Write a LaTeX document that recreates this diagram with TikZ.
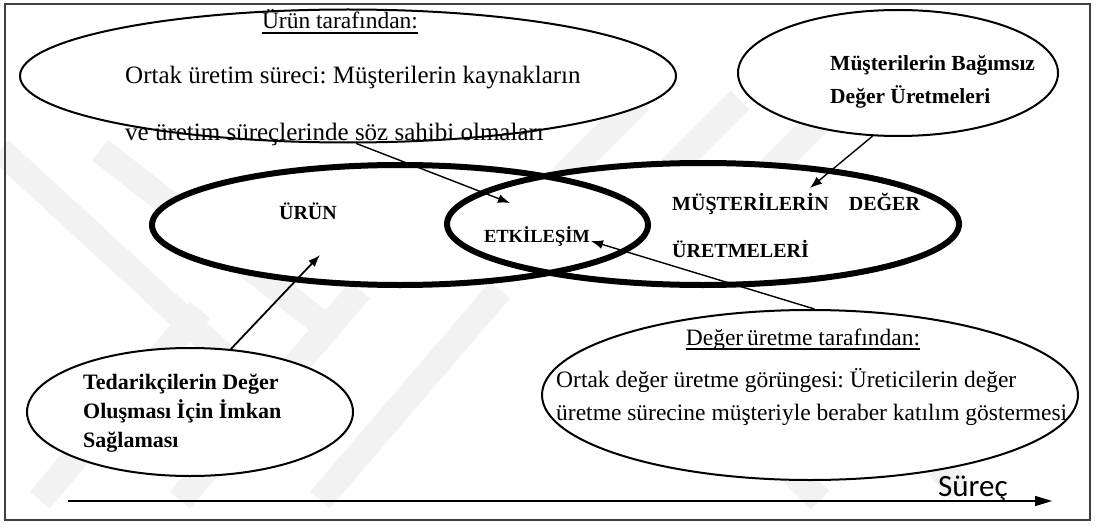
\documentclass[tikz,border=0pt]{standalone}
\usepackage{fontspec}
\setmainfont{Liberation Serif}
\newfontfamily\calibrifont{Carlito}
\usetikzlibrary{shapes.geometric,arrows.meta}
\frenchspacing

\begin{document}
\begin{tikzpicture}[x=1pt,y=-1pt,
  bubble/.style={ellipse, draw, line width=2pt, fill=white, inner sep=0pt},
  venn/.style={ellipse, draw, line width=6pt, inner sep=0pt},
  plain/.style={inner sep=0pt, font=\fontsize{24}{28}\selectfont},
  heavy/.style={inner sep=0pt, font=\bfseries\fontsize{22}{26}\selectfont},
  vennlabel/.style={inner sep=0pt, font=\bfseries\fontsize{20}{24}\selectfont},
  pointer/.style={-{Latex[length=12pt,width=9pt]}, line width=1.4pt},
  band/.style={line width=26pt, black!5}
]
\useasboundingbox (0,0) rectangle (1097,532);

% faint diagonal background bands
\draw[band] (40,500) -- (200,310);
\draw[band] (180,500) -- (360,290);
\draw[band] (320,500) -- (500,290);
\draw[band] (560,180) -- (640,100);
\draw[band] (660,180) -- (740,100);
\draw[band] (760,180) -- (840,100);
\draw[band] (0,150) -- (250,380);
\draw[band] (100,150) -- (330,330);
\draw[band] (700,380) -- (820,500);
\draw[band] (860,380) -- (960,490);

% outer frame
\draw[line width=1.8pt, black!75] (5,4) rectangle (1090,520);

% the two overlapping sets
\fill[white] (400,225) ellipse [x radius=248pt, y radius=60pt];
\fill[white] (703,224) ellipse [x radius=256pt, y radius=61pt];
\node[venn, minimum width=496pt, minimum height=120pt] (prod) at (400,225) {};
\node[venn, minimum width=512pt, minimum height=122pt] (cust) at (703,224) {};

\node[vennlabel, anchor=base] (prodlbl) at (308,219) {ÜRÜN};
\node[vennlabel, anchor=base, font=\bfseries\fontsize{18.5}{22}\selectfont] (etk) at (537,242) {ETKİLEŞİM};
\node[vennlabel, anchor=base west] (custlbl) at (672,210) {MÜŞTERİLERİN\hspace{20pt}DEĞER};
\node[vennlabel, anchor=base west] (custlblb) at (672,257) {ÜRETMELERİ};

% top left bubble
\node[bubble, minimum width=656pt, minimum height=133pt] (tl) at (348,76) {};
\node[plain, anchor=base, font=\fontsize{23.5}{28}\selectfont] (tlhead) at (340,29) {Ürün tarafından:};
\draw[line width=1.2pt] ([yshift=-4pt]tlhead.base west) -- ([yshift=-4pt]tlhead.base east);
\node[plain, anchor=base west, font=\fontsize{25}{28}\selectfont] (tla) at (125,84) {Ortak üretim süreci: Müşterilerin kaynakların};
\node[plain, anchor=base west, font=\fontsize{25}{28}\selectfont] (tlb) at (125,141) {ve üretim süreçlerinde söz sahibi olmaları};

% top right bubble
\node[bubble, minimum width=320pt, minimum height=126pt] (tr) at (898,73) {};
\node[heavy, anchor=base west, font=\bfseries\fontsize{21.5}{25}\selectfont] (tra) at (830,71) {Müşterilerin Bağımsız};
\node[heavy, anchor=base west, font=\bfseries\fontsize{21.5}{25}\selectfont] (trb) at (830,104) {Değer Üretmeleri};

% bottom left bubble
\node[bubble, minimum width=326pt, minimum height=128pt] (bl) at (190,412) {};
\node[heavy, anchor=base west] (bla) at (83,389) {Tedarikçilerin Değer};
\node[heavy, anchor=base west] (blb) at (83,418) {Oluşması İçin İmkan};
\node[heavy, anchor=base west] (blc) at (83,447) {Sağlaması};

% bottom right bubble
\node[bubble, minimum width=536pt, minimum height=170pt] (br) at (810,395) {};
\node[plain, anchor=base, font=\fontsize{23.5}{28}\selectfont] (brhead) at (803,345) {Değer\,üretme tarafından:};
\draw[line width=1.2pt] ([yshift=-4pt]brhead.base west) -- ([yshift=-4pt]brhead.base east);
\node[plain, anchor=base west, font=\fontsize{23.5}{28}\selectfont] (bra) at (556,387) {Ortak değer üretme görüngesi: Üreticilerin değer};
\node[plain, anchor=base west, font=\fontsize{23.5}{28}\selectfont] (brb) at (556,420) {üretme sürecine müşteriyle beraber katılım göstermesi};

% arrow ends
\coordinate (tipA) at (510,203);
\coordinate (tipB) at (810,188);
\coordinate (tipC) at (320,255);
\coordinate (tipD) at (591,241);

\draw[pointer] (tl.-83) -- (tipA);
\draw[pointer] (tr.-112) -- (tipB);
\draw[pointer, line width=1.8pt] (bl.57) -- (tipC);
\draw[pointer] (br.87) -- (tipD);

% process axis
\coordinate (axisStart) at (68,501);
\coordinate (axisEnd) at (1052,501);
\draw[-{Triangle[length=17pt,width=10pt]}, line width=1.6pt] (axisStart) -- (axisEnd);
\node[inner sep=0pt, anchor=base west, font=\calibrifont\fontsize{31}{35}\selectfont] (proc) at (938,496) {Süreç};
\end{tikzpicture}
\end{document}
